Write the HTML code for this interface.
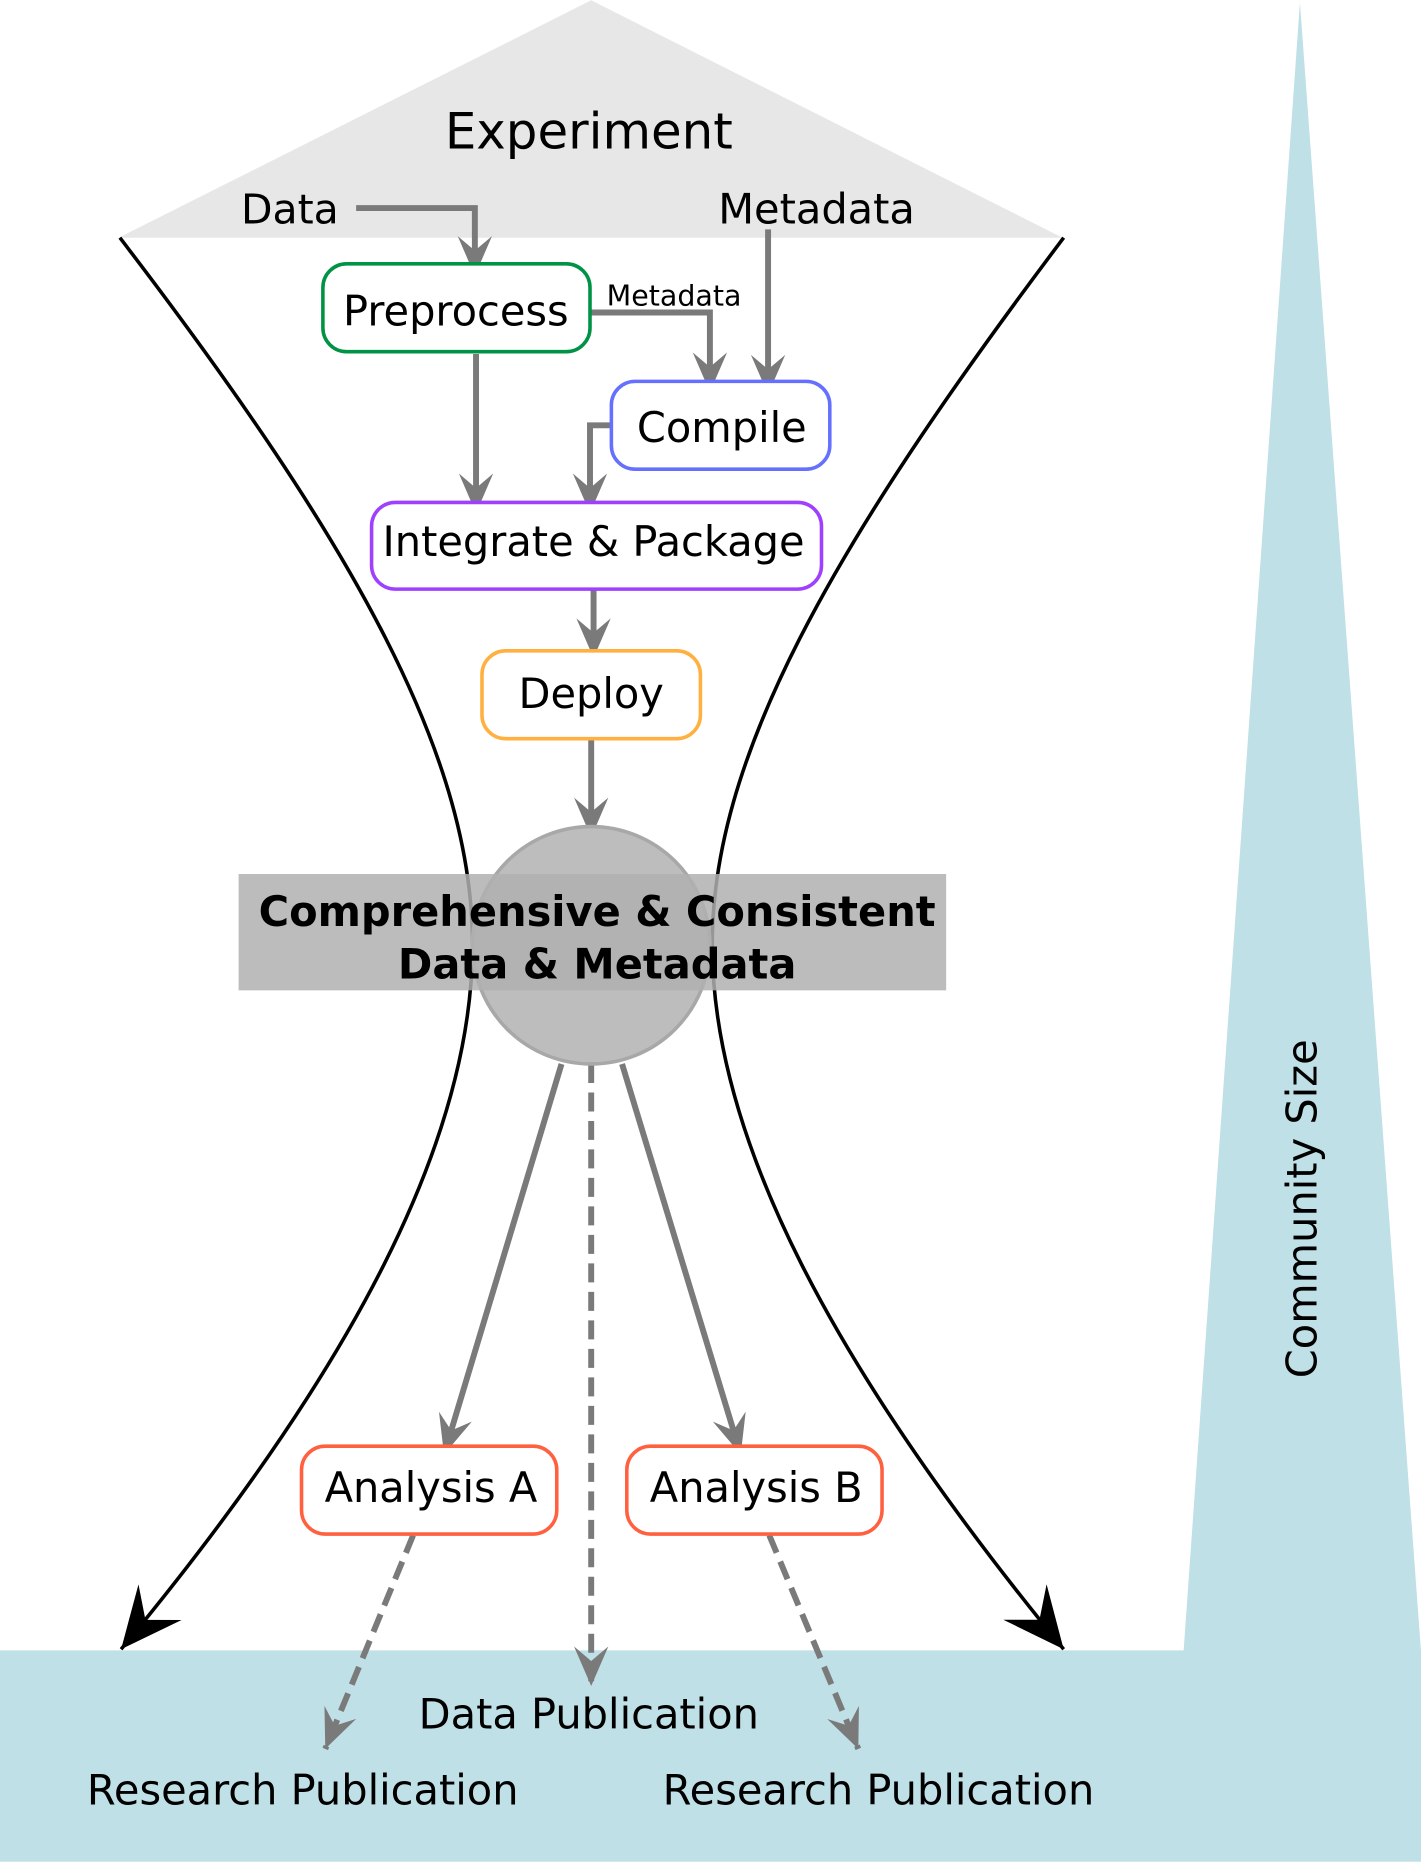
<!DOCTYPE html>
<html><head><meta charset="utf-8"><style>
html,body{margin:0;padding:0;background:#fff;}
svg{display:block;}
text{font-family:"DejaVu Sans","Liberation Sans",sans-serif;fill:#000;}
</style></head><body>
<svg width="1421" height="1862" viewBox="0 0 1197 1568" xmlns="http://www.w3.org/2000/svg">
<defs>
<marker id="ga" markerUnits="userSpaceOnUse" markerWidth="40" markerHeight="40" viewBox="-32 -16 36 32" refX="0" refY="0" orient="auto">
<path d="M0,0 L-30,-13 L-19,0 L-30,13 Z" fill="#7a7a7a"/>
</marker>
<marker id="ba" markerUnits="userSpaceOnUse" markerWidth="60" markerHeight="60" viewBox="-50 -28 54 56" refX="0" refY="0" orient="auto">
<path d="M0,0 L-48,-22 L-30,0 L-48,22 Z" fill="#000"/>
</marker>
</defs>
<rect width="1197" height="1568" fill="#fff"/>
<polygon points="100,200 498,0 895,200" fill="#e7e7e7"/>
<rect x="0" y="1390" width="1197" height="178" fill="#bee0e6"/>
<polygon points="997,1391 1095,2 1197,1391" fill="#bee0e6"/>

<path d="M101,200 C300,460 400,640 398,800 C396,960 300,1150 102,1389" fill="none" stroke="#000" stroke-width="3" marker-end="url(#ba)"/>
<path d="M896,200 C700,460 598,640 600,800 C602,960 700,1150 896,1389" fill="none" stroke="#000" stroke-width="3" marker-end="url(#ba)"/>

<text x="496" y="125" font-size="42" text-anchor="middle">Experiment</text>
<text x="203" y="188" font-size="34.5">Data</text>
<text x="605" y="188" font-size="35">Metadata</text>

<g fill="none" stroke="#7a7a7a" stroke-width="5">
<path d="M300,175 H400 V232" marker-end="url(#ga)"/>
<path d="M647,193 V332" marker-end="url(#ga)"/>
<path d="M497,263 H598 V330" marker-end="url(#ga)"/>
<path d="M401,298 V432" marker-end="url(#ga)"/>
<path d="M515,358 H497 V432" marker-end="url(#ga)"/>
<path d="M500,496 V554" marker-end="url(#ga)"/>
<path d="M498,622 V705" marker-end="url(#ga)"/>
<path d="M473,896 L374,1225" marker-end="url(#ga)"/>
<path d="M524,896 L624,1225" marker-end="url(#ga)"/>
<path d="M498,896 V1420" stroke-dasharray="16,8" marker-end="url(#ga)"/>
<path d="M348,1293 L274,1473" stroke-dasharray="16,8" marker-end="url(#ga)"/>
<path d="M648,1293 L723,1473" stroke-dasharray="16,8" marker-end="url(#ga)"/>
</g>
<text x="511" y="257" font-size="24">Metadata</text>

<g stroke-width="3" fill="#fff">
<rect x="272" y="222" width="225" height="74" rx="20" stroke="#009245"/>
<rect x="515" y="321" width="184" height="74" rx="20" stroke="#6670ff"/>
<rect x="313" y="423" width="379" height="73" rx="20" stroke="#a040ff"/>
<rect x="406" y="548" width="184" height="74" rx="20" stroke="#ffb040"/>
<rect x="254" y="1218" width="215" height="74" rx="20" stroke="#ff6040"/>
<rect x="528" y="1218" width="215" height="74" rx="20" stroke="#ff6040"/>
</g>
<g font-size="35" text-anchor="middle">
<text x="384" y="274">Preprocess</text>
<text x="608" y="372">Compile</text>
<text x="500" y="468">Integrate &amp; Package</text>
<text x="498" y="596">Deploy</text>
<text x="363" y="1265">Analysis A</text>
<text x="637" y="1265">Analysis B</text>
</g>

<circle cx="498" cy="796" r="100" fill="#bdbdbd" stroke="#a8a8a8" stroke-width="3"/>
<rect x="201" y="736" width="596" height="98" fill="#b0b0b0" fill-opacity="0.85"/>
<text x="503" y="780" font-size="35" font-weight="bold" text-anchor="middle">Comprehensive &amp; Consistent</text>
<text x="503" y="824" font-size="35" font-weight="bold" text-anchor="middle">Data &amp; Metadata</text>

<text x="496" y="1456" font-size="35" text-anchor="middle">Data Publication</text>
<text x="255" y="1520" font-size="35" text-anchor="middle">Research Publication</text>
<text x="740" y="1520" font-size="35" text-anchor="middle">Research Publication</text>

<text transform="translate(1109,1018) rotate(-90)" font-size="35" text-anchor="middle">Community Size</text>
</svg>
</body></html>
